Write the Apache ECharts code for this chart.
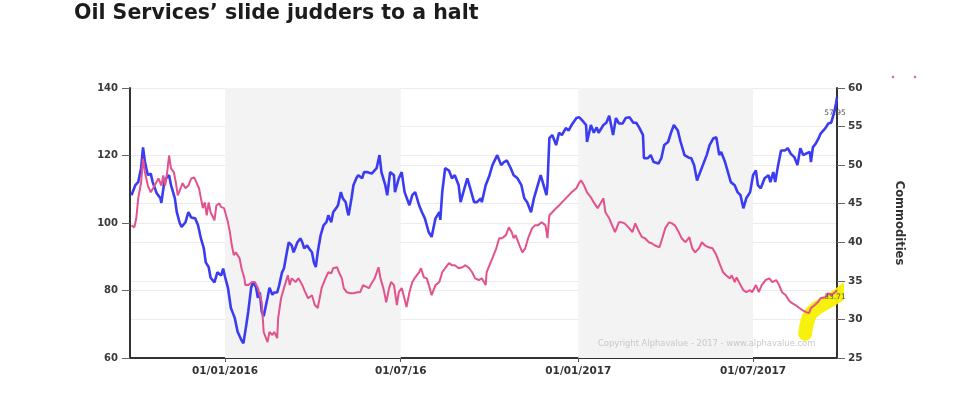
<!DOCTYPE html>
<html>
<head>
<meta charset="utf-8">
<script src="https://cdn.jsdelivr.net/npm/echarts@6/dist/echarts.min.js"></script>
<style>
  html, body { margin: 0; padding: 0; background: #ffffff; }
  #chart { width: 960px; height: 400px; }
</style>
</head>
<body>
<div id="chart"></div>
<script>
const titleText = 'Oil Services\u2019 slide judders to a halt';
const rightAxisName = 'Commodities';
const copyrightText = 'Copyright Alphavalue - 2017 - www.alphavalue.com';

const xRange = ['2015-09-24T12:00:00', '2017-09-26T00:00:00'];
const tickDates = ['2016-01-01', '2016-07-01', '2017-01-01', '2017-07-01'];
const tickLabels = ['01/01/2016', '01/07/16', '01/01/2017', '01/07/2017'];
const shadedPeriods = [['2016-01-01', '2016-07-01'], ['2017-01-01', '2017-07-01']];

const leftAxis = { min: 60, max: 140, interval: 20 };
const rightAxis = { min: 25, max: 60, interval: 5 };

// Commodities (blue, right axis)
const commodities = [
['2015-09-26',46.1],['2015-09-30',47.4],['2015-10-03',47.8],['2015-10-06',49.6],['2015-10-08',52.3],['2015-10-10',50.4],['2015-10-13',48.7],['2015-10-16',48.9],['2015-10-18',47.8],['2015-10-22',46.4],['2015-10-26',45.7],['2015-10-27',45.1],['2015-10-30',47.8],['2015-11-01',48.3],['2015-11-04',48.7],['2015-11-06',47.4],['2015-11-10',45.7],['2015-11-12',43.9],['2015-11-15',42.5],['2015-11-17',42.0],['2015-11-21',42.6],['2015-11-24',43.9],['2015-11-27',43.2],['2015-12-01',43.1],['2015-12-04',42.2],['2015-12-07',40.5],['2015-12-10',39.2],['2015-12-12',37.4],['2015-12-15',36.8],['2015-12-17',35.4],['2015-12-21',34.8],['2015-12-24',36.1],['2015-12-28',35.7],['2015-12-30',36.6],
['2016-01-01',35.5],['2016-01-04',34.1],['2016-01-07',31.5],['2016-01-11',30.2],['2016-01-14',28.4],['2016-01-18',27.3],['2016-01-20',26.9],['2016-01-23',29.3],['2016-01-25',31.0],['2016-01-28',34.1],['2016-01-30',34.8],['2016-02-02',34.2],['2016-02-04',32.8],['2016-02-06',33.5],['2016-02-08',31.0],['2016-02-10',30.4],['2016-02-14',32.8],['2016-02-16',34.1],['2016-02-19',33.2],['2016-02-21',33.5],['2016-02-24',33.5],['2016-02-26',34.4],['2016-02-29',36.1],['2016-03-02',36.6],['2016-03-05',38.7],['2016-03-07',40.0],['2016-03-10',39.6],['2016-03-12',38.7],['2016-03-16',40.0],['2016-03-19',40.5],['2016-03-21',40.0],['2016-03-23',39.2],['2016-03-26',39.6],['2016-03-28',39.2],['2016-03-31',38.7],['2016-04-02',37.4],['2016-04-04',36.8],['2016-04-06',38.7],['2016-04-09',40.9],['2016-04-12',42.2],['2016-04-15',42.6],['2016-04-17',43.5],['2016-04-20',42.6],['2016-04-22',43.9],['2016-04-25',44.4],['2016-04-27',44.8],['2016-04-30',46.5],['2016-05-02',45.7],['2016-05-05',45.2],['2016-05-07',43.9],['2016-05-08',43.5],['2016-05-11',45.7],['2016-05-13',47.4],['2016-05-16',48.3],['2016-05-18',48.7],['2016-05-22',48.3],['2016-05-24',49.1],['2016-05-27',49.1],['2016-06-01',48.9],['2016-06-06',49.6],['2016-06-09',51.3],['2016-06-11',49.1],['2016-06-15',47.4],['2016-06-17',46.1],['2016-06-20',49.1],['2016-06-24',48.7],['2016-06-25',46.5],['2016-06-29',48.3],['2016-07-02',49.1],['2016-07-05',46.5],['2016-07-10',44.8],['2016-07-13',46.1],['2016-07-16',46.5],['2016-07-20',44.8],['2016-07-23',43.9],['2016-07-26',43.1],['2016-07-30',41.3],['2016-08-02',40.7],['2016-08-06',43.1],['2016-08-10',43.9],['2016-08-11',42.9],['2016-08-13',46.5],['2016-08-16',49.6],['2016-08-20',49.3],['2016-08-23',48.3],['2016-08-26',48.7],['2016-08-30',47.4],['2016-09-01',45.2],['2016-09-05',47.0],['2016-09-08',48.3],['2016-09-11',47.0],['2016-09-15',45.2],['2016-09-18',45.2],['2016-09-22',45.7],['2016-09-23',45.2],['2016-09-27',47.4],['2016-10-01',48.7],['2016-10-04',50.0],['2016-10-09',51.3],['2016-10-13',50.0],['2016-10-16',50.4],['2016-10-19',50.6],['2016-10-23',49.6],['2016-10-26',48.7],['2016-10-30',48.3],['2016-11-03',47.4],['2016-11-06',45.7],['2016-11-09',45.2],['2016-11-13',43.9],['2016-11-16',45.7],['2016-11-19',47.0],['2016-11-23',48.7],['2016-11-26',47.4],['2016-11-29',46.1],['2016-11-30',47.4],['2016-12-02',53.5],['2016-12-05',53.9],['2016-12-09',52.6],['2016-12-12',54.2],['2016-12-15',53.9],['2016-12-19',54.8],['2016-12-22',54.5],['2016-12-25',55.2],['2016-12-30',56.1],
['2017-01-02',56.2],['2017-01-05',55.8],['2017-01-09',55.2],['2017-01-10',53.0],['2017-01-14',55.2],['2017-01-17',54.2],['2017-01-20',54.9],['2017-01-22',54.2],['2017-01-27',55.2],['2017-01-30',55.5],['2017-02-02',56.4],['2017-02-06',53.9],['2017-02-09',56.1],['2017-02-12',55.4],['2017-02-16',55.4],['2017-02-19',56.1],['2017-02-23',56.2],['2017-02-27',55.5],['2017-03-02',55.5],['2017-03-05',54.9],['2017-03-09',53.9],['2017-03-10',50.9],['2017-03-14',50.9],['2017-03-17',51.3],['2017-03-20',50.4],['2017-03-25',50.2],['2017-03-28',50.9],['2017-03-31',52.6],['2017-04-04',53.0],['2017-04-07',54.2],['2017-04-10',55.2],['2017-04-14',54.5],['2017-04-17',53.0],['2017-04-21',51.3],['2017-04-25',51.0],['2017-04-28',50.9],['2017-05-01',50.0],['2017-05-04',48.0],['2017-05-06',48.7],['2017-05-10',50.0],['2017-05-14',51.3],['2017-05-17',52.6],['2017-05-21',53.5],['2017-05-24',53.6],['2017-05-27',51.3],['2017-05-29',51.7],['2017-06-02',50.4],['2017-06-05',49.1],['2017-06-08',47.8],['2017-06-12',47.4],['2017-06-15',46.5],['2017-06-18',46.1],['2017-06-21',44.4],['2017-06-24',45.7],['2017-06-28',46.5],['2017-07-01',48.7],['2017-07-04',49.3],['2017-07-06',47.4],['2017-07-09',47.0],['2017-07-13',48.3],['2017-07-17',48.7],['2017-07-19',47.8],['2017-07-22',49.1],['2017-07-24',47.8],['2017-07-27',50.0],['2017-07-30',51.9],['2017-08-03',51.9],['2017-08-06',52.2],['2017-08-09',51.5],['2017-08-13',51.0],['2017-08-16',50.0],['2017-08-19',52.2],['2017-08-22',51.3],['2017-08-25',51.5],['2017-08-29',51.7],['2017-08-30',50.4],['2017-09-01',52.3],['2017-09-04',52.8],['2017-09-07',53.5],['2017-09-09',54.1],['2017-09-14',54.8],['2017-09-17',55.4],['2017-09-20',55.5],['2017-09-23',56.8],['2017-09-25',58.0],['2017-09-26',58.8]
];

// Oil Services (pink, left axis)
const oilServices = [
['2015-09-26',99.3],['2015-09-29',98.7],['2015-10-01',101.4],['2015-10-03',107.3],['2015-10-06',112.0],['2015-10-08',119.1],['2015-10-10',115.0],['2015-10-13',111.1],['2015-10-16',109.1],['2015-10-20',111.1],['2015-10-24',113.2],['2015-10-27',111.1],['2015-10-29',114.1],['2015-10-31',111.1],['2015-11-02',115.0],['2015-11-04',120.0],['2015-11-06',116.2],['2015-11-09',115.0],['2015-11-11',112.0],['2015-11-13',108.2],['2015-11-16',110.3],['2015-11-18',111.8],['2015-11-21',110.3],['2015-11-24',111.1],['2015-11-27',113.2],['2015-11-30',113.5],['2015-12-02',113.2],['2015-12-05',110.3],['2015-12-07',107.3],['2015-12-09',104.4],['2015-12-11',106.1],['2015-12-13',102.3],['2015-12-15',106.1],['2015-12-17',103.2],['2015-12-21',100.8],['2015-12-23',105.2],['2015-12-26',105.8],['2015-12-28',104.7],['2015-12-31',104.4],
['2016-01-02',102.3],['2016-01-04',100.2],['2016-01-06',97.3],['2016-01-08',93.4],['2016-01-10',90.5],['2016-01-12',91.3],['2016-01-16',89.6],['2016-01-18',86.6],['2016-01-21',83.6],['2016-01-22',81.6],['2016-01-25',81.6],['2016-01-29',82.5],['2016-02-01',82.5],['2016-02-04',80.7],['2016-02-08',76.5],['2016-02-10',67.7],['2016-02-14',64.7],['2016-02-16',67.7],['2016-02-19',66.8],['2016-02-21',67.7],['2016-02-24',65.9],['2016-02-25',71.8],['2016-02-28',77.7],['2016-03-02',80.7],['2016-03-06',84.5],['2016-03-08',81.6],['2016-03-10',83.6],['2016-03-14',82.5],['2016-03-17',83.6],['2016-03-21',81.6],['2016-03-24',79.5],['2016-03-27',77.7],['2016-03-31',78.6],['2016-04-03',75.7],['2016-04-06',74.8],['2016-04-08',77.7],['2016-04-10',80.7],['2016-04-14',83.6],['2016-04-17',85.4],['2016-04-20',85.1],['2016-04-22',86.6],['2016-04-26',86.9],['2016-04-28',85.4],['2016-05-01',83.6],['2016-05-03',80.7],['2016-05-06',79.5],['2016-05-10',79.2],['2016-05-13',79.2],['2016-05-17',79.5],['2016-05-20',79.5],['2016-05-23',81.6],['2016-05-25',81.6],['2016-05-29',80.7],['2016-06-01',82.2],['2016-06-04',83.6],['2016-06-08',86.9],['2016-06-10',83.6],['2016-06-13',80.7],['2016-06-16',76.5],['2016-06-19',80.7],['2016-06-21',82.5],['2016-06-24',81.6],['2016-06-27',75.7],['2016-06-29',79.5],['2016-07-02',80.7],['2016-07-04',78.6],['2016-07-07',75.1],['2016-07-10',79.5],['2016-07-13',82.5],['2016-07-16',83.9],['2016-07-20',85.4],['2016-07-22',86.6],['2016-07-25',83.9],['2016-07-28',83.6],['2016-07-31',80.7],['2016-08-02',78.6],['2016-08-06',81.6],['2016-08-10',82.5],['2016-08-13',85.4],['2016-08-16',86.6],['2016-08-20',88.1],['2016-08-23',87.5],['2016-08-26',87.5],['2016-08-30',86.6],['2016-09-03',86.9],['2016-09-06',87.5],['2016-09-10',86.6],['2016-09-13',85.4],['2016-09-16',83.6],['2016-09-20',83.1],['2016-09-23',83.6],['2016-09-27',81.6],['2016-09-28',85.4],['2016-10-01',87.5],['2016-10-04',89.6],['2016-10-08',92.5],['2016-10-11',95.5],['2016-10-14',95.5],['2016-10-18',96.4],['2016-10-21',98.7],['2016-10-24',97.3],['2016-10-26',95.5],['2016-10-28',96.4],['2016-11-01',93.4],['2016-11-04',91.3],['2016-11-07',92.5],['2016-11-10',95.5],['2016-11-14',98.4],['2016-11-17',99.3],['2016-11-20',99.3],['2016-11-24',100.2],['2016-11-28',99.3],['2016-11-30',95.5],['2016-12-02',102.3],['2016-12-05',103.2],['2016-12-09',104.4],['2016-12-12',105.2],['2016-12-15',106.1],['2016-12-19',107.3],['2016-12-22',108.2],['2016-12-25',109.1],['2016-12-30',110.3],
['2017-01-02',112.0],['2017-01-04',112.6],['2017-01-07',111.1],['2017-01-10',109.1],['2017-01-14',107.6],['2017-01-17',106.1],['2017-01-21',104.4],['2017-01-27',107.3],['2017-01-29',103.2],['2017-02-02',101.4],['2017-02-05',99.3],['2017-02-08',97.3],['2017-02-12',100.2],['2017-02-15',100.2],['2017-02-18',99.9],['2017-02-23',98.4],['2017-02-26',97.3],['2017-03-01',99.9],['2017-03-05',97.3],['2017-03-08',95.8],['2017-03-11',95.5],['2017-03-15',94.3],['2017-03-18',94.0],['2017-03-21',93.4],['2017-03-26',92.8],['2017-03-29',95.5],['2017-04-01',98.4],['2017-04-05',100.2],['2017-04-08',99.9],['2017-04-11',99.3],['2017-04-15',97.3],['2017-04-18',95.5],['2017-04-22',94.3],['2017-04-26',95.8],['2017-04-29',92.5],['2017-05-02',91.3],['2017-05-06',92.5],['2017-05-09',94.3],['2017-05-12',93.4],['2017-05-16',92.8],['2017-05-20',92.5],['2017-05-24',90.5],['2017-05-28',87.5],['2017-05-31',85.4],['2017-06-03',84.5],['2017-06-07',83.6],['2017-06-09',84.5],['2017-06-12',82.5],['2017-06-14',83.9],['2017-06-18',81.6],['2017-06-21',80.1],['2017-06-24',79.5],['2017-06-28',80.1],['2017-06-30',79.5],['2017-07-04',81.6],['2017-07-07',79.5],['2017-07-10',81.6],['2017-07-14',83.1],['2017-07-18',83.6],['2017-07-21',82.5],['2017-07-25',83.1],['2017-07-28',81.6],['2017-07-31',79.5],['2017-08-04',78.6],['2017-08-07',77.1],['2017-08-10',76.3],['2017-08-14',75.7],['2017-08-18',74.8],['2017-08-21',74.2],['2017-08-25',73.6],['2017-08-28',73.3],['2017-08-30',74.8],['2017-09-03',75.7],['2017-09-06',76.5],['2017-09-09',77.7],['2017-09-14',78.0],['2017-09-17',79.2],['2017-09-20',78.6],['2017-09-24',79.5],['2017-09-26',80.1]
];

// Hand-drawn yellow highlight stroke (in Oil Services / left-axis units)
const highlightStroke = [
['2017-08-24',67.2],['2017-08-26',70.4],['2017-08-29',72.8],['2017-09-03',74.3],['2017-09-10',75.6],['2017-09-18',77.0],['2017-09-27',78.5],['2017-10-05',80.3],['2017-10-11',81.6]
];

const endLabels = { commodities: '57.95', oilServices: '33.71' };

function toTs(s) {
  const p = s.split('-').map(Number);
  return new Date(p[0], p[1] - 1, p[2]).getTime();
}
const tickTs = tickDates.map(toTs);
const DAY = 86400000;

const chart = echarts.init(document.getElementById('chart'), null, { renderer: 'canvas' });
const FONT = '"DejaVu Sans", "Liberation Sans", Arial, sans-serif';
const lastC = commodities[commodities.length - 1];
const lastO = oilServices[oilServices.length - 1];

function labelFor(v) {
  for (let i = 0; i < tickTs.length; i++) {
    if (Math.abs(tickTs[i] - v) < 2 * DAY) return tickLabels[i];
  }
  return '';
}

const option = {
  animation: false,
  backgroundColor: '#ffffff',
  textStyle: { fontFamily: FONT },
  title: {
    text: titleText,
    left: 69,
    top: -2,
    textStyle: { fontSize: 20.5, fontWeight: 'bold', color: '#1c1c1c', fontFamily: FONT }
  },
  grid: { left: 130, right: 123, top: 88, bottom: 42, containLabel: false },
  xAxis: {
    type: 'time',
    min: xRange[0],
    max: xRange[1],
    splitNumber: 4,
    minInterval: 150 * DAY,
    maxInterval: 200 * DAY,
    axisLine: { show: true, lineStyle: { color: '#333', width: 2 } },
    axisTick: { show: true, length: 4, lineStyle: { color: '#555' } },
    axisLabel: {
      margin: 8,
      fontSize: 10.5,
      fontWeight: 'bold',
      color: '#333',
      fontFamily: FONT,
      hideOverlap: false,
      formatter: function (v) { return labelFor(v); }
    },
    splitLine: { show: false }
  },
  yAxis: [
    {
      type: 'value',
      position: 'left',
      min: leftAxis.min, max: leftAxis.max, interval: leftAxis.interval,
      axisLine: { show: true, lineStyle: { color: '#333', width: 2 } },
      axisTick: { show: true, length: 8, lineStyle: { color: '#666' } },
      axisLabel: { fontSize: 10, fontWeight: 'bold', color: '#3a3a3a', margin: 12, fontFamily: FONT },
      splitLine: { show: true, lineStyle: { color: '#ececec', width: 1 } }
    },
    {
      type: 'value',
      position: 'right',
      min: rightAxis.min, max: rightAxis.max, interval: rightAxis.interval,
      name: rightAxisName,
      nameLocation: 'middle',
      nameRotate: -90,
      nameGap: 56,
      nameTextStyle: { fontSize: 11.5, fontWeight: 'bold', color: '#333', fontFamily: FONT },
      axisLine: { show: true, lineStyle: { color: '#333', width: 2 } },
      axisTick: { show: true, length: 8, lineStyle: { color: '#666' } },
      axisLabel: { fontSize: 10.5, fontWeight: 'bold', color: '#3a3a3a', margin: 11, fontFamily: FONT },
      splitLine: { show: true, lineStyle: { color: '#ececec', width: 1 } }
    }
  ],
  series: [
    {
      name: 'Highlight',
      type: 'line',
      yAxisIndex: 0,
      data: highlightStroke,
      showSymbol: false,
      smooth: true,
      clip: false,
      z: 2,
      lineStyle: { color: '#f8ef00', width: 14, cap: 'round', join: 'round', opacity: 0.95 },
      markArea: {
        silent: true,
        itemStyle: { color: '#f3f3f3' },
        data: shadedPeriods.map(p => [{ xAxis: p[0] }, { xAxis: p[1] }])
      }
    },
    {
      name: 'Commodities',
      type: 'line',
      yAxisIndex: 1,
      data: commodities,
      showSymbol: false,
      z: 3,
      lineStyle: { color: '#3b3cf2', width: 2.6 },
      markPoint: {
        symbol: 'circle', symbolSize: 1,
        itemStyle: { color: 'rgba(0,0,0,0)' },
        label: { show: true, formatter: endLabels.commodities, offset: [-2, 16], fontSize: 7.5, color: '#555', fontFamily: FONT },
        data: [{ coord: lastC }]
      }
    },
    {
      name: 'Oil Services',
      type: 'line',
      yAxisIndex: 0,
      data: oilServices,
      showSymbol: false,
      z: 4,
      lineStyle: { color: '#e2528d', width: 2 },
      markPoint: {
        symbol: 'circle', symbolSize: 1,
        itemStyle: { color: 'rgba(0,0,0,0)' },
        label: { show: true, formatter: endLabels.oilServices, offset: [-2, 7], fontSize: 7.5, color: '#555', fontFamily: FONT },
        data: [{ coord: lastO }]
      }
    }
  ],
  graphic: [
    {
      type: 'text',
      left: 598, top: 340,
      z: 100,
      style: { text: copyrightText, fontSize: 8.4, fill: '#c8c8c8', fontFamily: FONT }
    },
    { type: 'circle', z: 100, shape: { cx: 893, cy: 77, r: 1.3 }, style: { fill: '#e46a9a' } },
    { type: 'circle', z: 100, shape: { cx: 915, cy: 77, r: 1.3 }, style: { fill: '#e46a9a' } }
  ]
};

chart.setOption(option);
</script>
</body>
</html>
